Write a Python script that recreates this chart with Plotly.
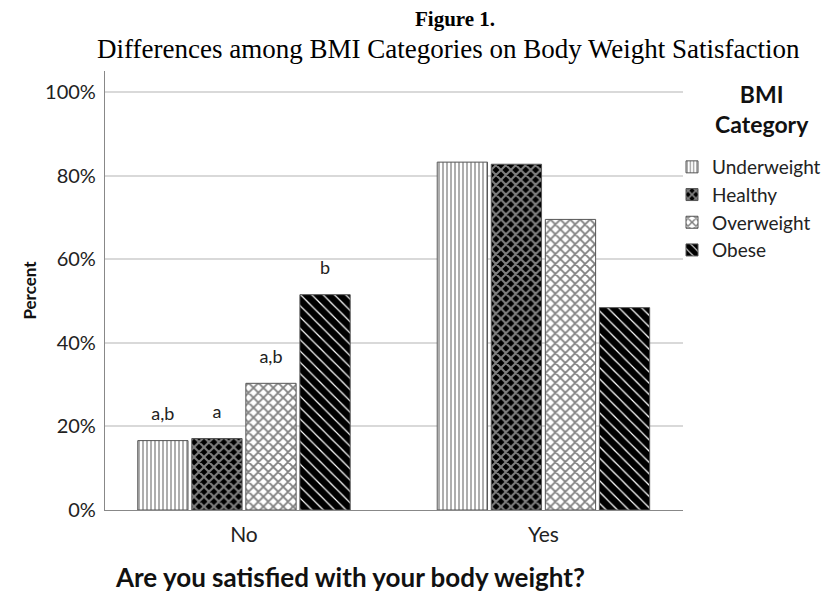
import plotly.graph_objects as go

categories = ["No", "Yes"]
groups = ["Underweight", "Healthy", "Overweight", "Obese"]
underweight = [16.6, 83.2]
healthy = [17.1, 82.7]
overweight = [30.3, 69.5]
obese = [51.5, 48.4]
sig_underweight = ["a,b", ""]
sig_healthy = ["a", ""]
sig_overweight = ["a,b", ""]
sig_obese = ["b", ""]
y_ticks = [0, 20, 40, 60, 80, 100]
y_tick_text = ["0%", "20%", "40%", "60%", "80%", "100%"]

series = {"Underweight": underweight, "Healthy": healthy,
          "Overweight": overweight, "Obese": obese}
sig = {"Underweight": sig_underweight, "Healthy": sig_healthy,
       "Overweight": sig_overweight, "Obese": sig_obese}
patterns = {
    "Underweight": dict(shape="|", fgcolor="#333", bgcolor="white", size=4, solidity=0.4),
    "Healthy": dict(shape="x", fgcolor="white", bgcolor="black", size=7, solidity=0.5),
    "Overweight": dict(shape="x", fgcolor="black", bgcolor="white", size=7, solidity=0.45),
    "Obese": dict(shape="\\", fgcolor="black", bgcolor="white", size=8, solidity=0.85,
                  fgopacity=1),
}

W, H = 829, 592
L, R, T, B = 97, 154, 63, 90
PW, PH = W - L - R, H - T - B
def px(x):
    return (x - L) / PW
def py(y):
    return (H - B - y) / PH

FONT = "Lato"
GAP = 0.278
fig = go.Figure()
for g in groups:
    fig.add_trace(go.Bar(
        x=categories, y=series[g], name=g,
        marker=dict(color="white", pattern=patterns[g],
                    line=dict(color="#555", width=1)),
    ))
for g in groups:
    fig.add_trace(go.Scatter(
        x=categories, y=series[g], mode="markers+text", text=sig[g],
        textposition="top center", showlegend=False, hoverinfo="skip",
        marker=dict(size=24, opacity=0), cliponaxis=False,
        textfont=dict(family=FONT, size=18, color="#222"),
    ))

fig.update_layout(
    width=W, height=H,
    margin=dict(l=L, r=R, t=T, b=B, autoexpand=False),
    paper_bgcolor="white", plot_bgcolor="white",
    barmode="group", bargap=GAP, bargroupgap=0.07,
    scattermode="group", scattergap=GAP,
    font=dict(family=FONT, color="#222"),
    legend=dict(x=px(664), xanchor="left", y=py(140), yanchor="top",
                font=dict(family=FONT, size=19, color="#222"),
                itemwidth=30, tracegroupgap=0, bgcolor="rgba(0,0,0,0)"),
    xaxis=dict(range=[-0.464, 1.466], showline=True, linecolor="#888", linewidth=1.2,
               ticks="", ticklabelstandoff=6,
               tickfont=dict(family=FONT, size=21, color="#222")),
    yaxis=dict(range=[0, 105], tickvals=y_ticks, ticktext=y_tick_text,
               showline=True, linecolor="#888", linewidth=1.2,
               showgrid=True, gridcolor="#d9d9d9", gridwidth=1.5, zeroline=False,
               ticks="", ticklabelstandoff=4,
               tickfont=dict(family=FONT, size=20, color="#222"),
               title=dict(text="<b>Percent</b>", font=dict(family=FONT, size=17, color="#111"),
                          standoff=4)),
    annotations=[
        dict(text="<b>Figure 1.</b>", x=px(447), y=py(11),
             font=dict(family="Liberation Serif", size=21, color="black")),
        dict(text="Differences among BMI Categories on Body Weight Satisfaction",
             x=px(440), y=py(41),
             font=dict(family="Liberation Serif", size=27, color="black")),
        dict(text="<b>BMI<br>Category</b>", x=px(754), y=py(101),
             font=dict(family=FONT, size=23, color="#111")),
        dict(text="<b>Are you satisfied with your body weight?</b>", x=px(342), y=py(569),
             font=dict(family=FONT, size=26, color="#111")),
    ],
)
fig.update_annotations(xref="paper", yref="paper", showarrow=False,
                       xanchor="center", yanchor="middle")

fig.write_html("out.html")
